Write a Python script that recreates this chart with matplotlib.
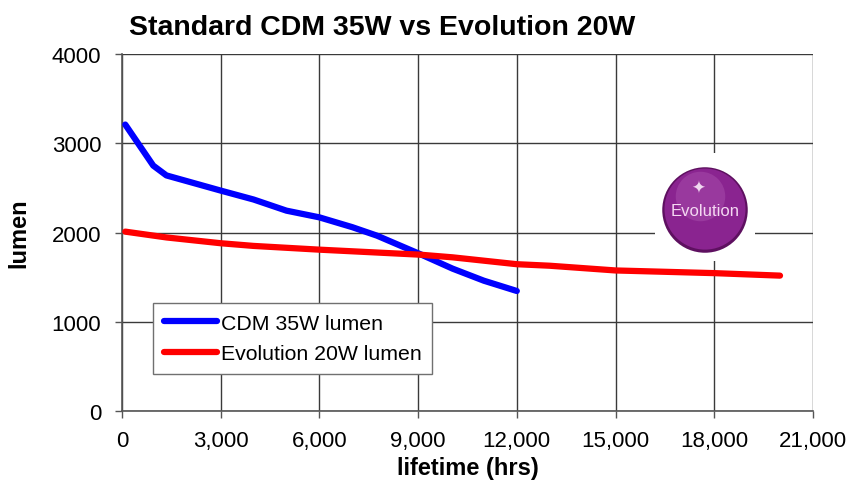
import matplotlib.pyplot as plt
from matplotlib.patches import Circle, Rectangle

plt.rcParams['font.family'] = ['Liberation Sans', 'DejaVu Sans']

# values
cdm_hrs = [100, 950, 1350, 3000, 4000, 5000, 6000, 7000, 7750, 9050, 10050, 11000, 12000]
cdm_lumen = [3210, 2750, 2640, 2470, 2370, 2245, 2170, 2060, 1965, 1760, 1595, 1460, 1345]

evo_hrs = [100, 1350, 3000, 4000, 6000, 9050, 10050, 12000, 13000, 15000, 18000, 20000]
evo_lumen = [2010, 1945, 1880, 1850, 1808, 1752, 1722, 1645, 1628, 1575, 1545, 1517]

xticks = [0, 3000, 6000, 9000, 12000, 15000, 18000, 21000]
yticks = [0, 1000, 2000, 3000, 4000]

fig = plt.figure(figsize=(8.53, 4.85), dpi=100)
ax = fig.add_axes([0.143, 0.1505, 0.81, 0.736])

ax.plot(cdm_hrs, cdm_lumen, color='#0000ff', lw=4.5, solid_capstyle='round',
        label='CDM 35W lumen', zorder=3)
ax.plot(evo_hrs, evo_lumen, color='#ff0000', lw=4.5, solid_capstyle='round',
        label='Evolution 20W lumen', zorder=3)

ax.set_xlim(0, 21000)
ax.set_ylim(0, 4000)
ax.set_xticks(xticks)
ax.set_xticklabels(['0'] + [f'{t:,}' for t in xticks[1:]])
ax.set_yticks(yticks)
ax.tick_params(labelsize=16, direction='out', length=5, width=1, color='#555555')
ax.tick_params(axis='x', pad=9)
ax.tick_params(axis='y', pad=10)
ax.grid(True, color='#3a3a3a', lw=1)
ax.set_axisbelow(True)
for s in ['top', 'right']:
    ax.spines[s].set_visible(False)
for s in ['left', 'bottom']:
    ax.spines[s].set_color('#555555')
    ax.spines[s].set_linewidth(1.2)

ax.set_xlabel('lifetime (hrs)', fontsize=17, fontweight='bold', labelpad=3)
ax.set_ylabel('lumen', fontsize=17, fontweight='bold', labelpad=15)
fig.text(0.448, 0.943, 'Standard CDM 35W vs Evolution 20W', fontsize=20.5,
         fontweight='bold', ha='center', va='center')

leg = ax.legend(loc='lower left', bbox_to_anchor=(0.045, 0.104), fontsize=15.3,
                handlelength=2.5, handletextpad=0.2, borderpad=0.5,
                labelspacing=0.55, fancybox=False, framealpha=1,
                edgecolor='#707070', borderaxespad=0)
leg.get_frame().set_linewidth(1)

# Evolution logo badge
fig.patches.append(Rectangle((655 / 853, 1 - 262 / 485), 100 / 853, 108 / 485,
                             transform=fig.transFigure, facecolor='white',
                             edgecolor='none', zorder=4))
logo = fig.add_axes([660 / 853, 1 - 258 / 485, 90 / 853, 94 / 485], zorder=5)
logo.set_xlim(-1, 1)
logo.set_ylim(-1, 1)
logo.set_aspect('equal')
logo.axis('off')
logo.add_patch(Circle((0, 0), 0.95, facecolor='#5e1060', edgecolor='none'))
logo.add_patch(Circle((0, 0.02), 0.9, facecolor='#8a2490', edgecolor='none'))
logo.add_patch(Circle((-0.1, 0.3), 0.55, facecolor='#a448a8', edgecolor='none', alpha=0.6))
logo.text(-0.15, 0.5, '✦', color='#f0d8f0', fontsize=12, ha='center', va='center',
          family=['DejaVu Sans'])
logo.text(0, 0.0, 'Evolution', color='#f4d8f2', fontsize=12, ha='center', va='center')

fig.savefig('out.png', dpi=100)
